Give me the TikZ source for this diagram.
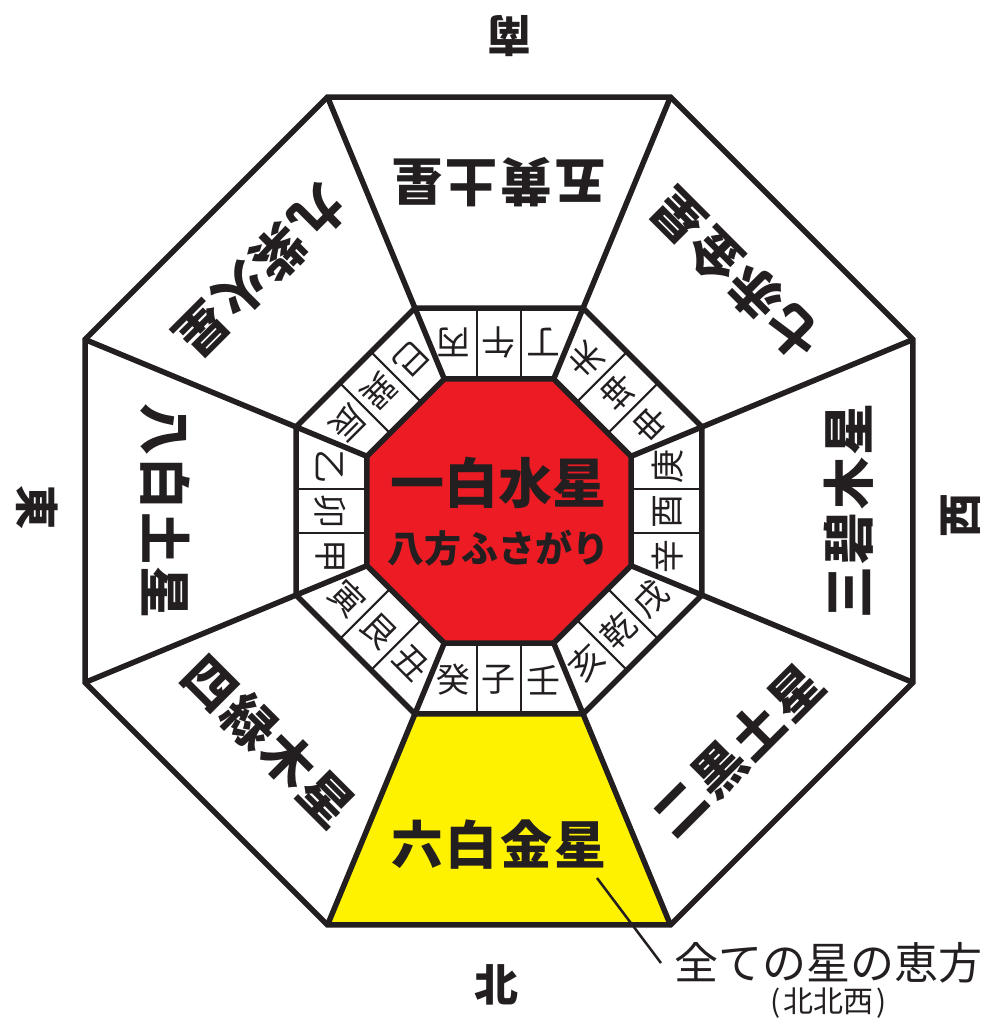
\documentclass[tikz,border=0pt]{standalone}
\usepackage{fontspec}
\newfontfamily\jp{Noto Sans CJK JP}
\newfontfamily\jpwide{Noto Sans CJK JP}[LetterSpace=5]
\usetikzlibrary{positioning}
\definecolor{ink}{HTML}{231F20}
\definecolor{kyuseired}{HTML}{ED1C24}
\definecolor{ehoyellow}{HTML}{FFF200}
\tikzset{
  heavy/.style={draw=ink, line width=5.5pt},
  light/.style={draw=ink, line width=2pt},
  starname/.style={font=\jpwide\bfseries\fontsize{52}{52}\selectfont, text=ink, inner sep=0pt},
  stemname/.style={font=\jp\fontsize{34}{34}\selectfont, text=ink, inner sep=0pt},
  direction/.style={font=\jp\bfseries\fontsize{44}{44}\selectfont, text=ink, inner sep=0pt},
}
\begin{document}
\begin{tikzpicture}[x=1pt, y=1pt]
  \useasboundingbox (-499,-515) rectangle (493,511);
  \fill[ehoyellow] (247.5:219.7) -- (292.5:219.7) -- (292.5:448.1) -- (247.5:448.1) -- cycle;
  \fill[kyuseired] (22.5:142.9) \foreach \a in {67.5,112.5,...,337.5} {-- (\a:142.9)} -- cycle;
  \foreach \a in {0,45,...,315}
    \draw[light, rotate=\a] (132,22) -- (203,22) (132,-22) -- (203,-22);
  \foreach \r in {142.9,219.7,448.1}
    \draw[heavy] (22.5:\r) \foreach \a in {67.5,112.5,...,337.5} {-- (\a:\r)} -- cycle;
  \foreach \a in {22.5,67.5,...,337.5}
    \draw[heavy] (\a:142.9) -- (\a:448.1);

  \foreach \a/\p/\q/\s/\nm in {270/壬/子/癸/n, 225/丑/艮/寅/ne, 180/甲/卯/乙/e, 135/辰/巽/巳/se,
      90/丙/午/丁/s, 45/未/坤/申/sw, 0/庚/酉/辛/w, -45/戌/乾/亥/nw}
  {
    \begin{scope}[rotate=\a]
      \node[stemname, rotate=\a+90] (stem\nm1) at (169,45) {\p};
      \node[stemname, rotate=\a+90] (stem\nm2) at (169,0) {\q};
      \node[stemname, rotate=\a+90] (stem\nm3) at (169,-45) {\s};
    \end{scope}
  }

  \foreach \a/\r/\txt/\nm in {90/329/五黄土星/s, 45/335/七赤金星/sw, 0/350/三碧木星/w,
      -45/338/二黒土星/nw, -90/334/六白金星/n, -135/325/四緑木星/ne, 180/334/八白土星/e, 135/338/九紫火星/se}
    \node[starname, rotate=\a+90] (star\nm) at (\a:\r) {\txt};

  \node[font=\jp\bfseries\fontsize{54}{54}\selectfont, text=ink, inner sep=0pt] (center) at (0,28) {一白水星};
  \node[font=\jp\bfseries\fontsize{37}{37}\selectfont, text=ink, inner sep=0pt] (fusagari) at (0,-37) {八方ふさがり};

  \node[direction, rotate=180] (south) at (11,475) {南};
  \node[direction] (north) at (-2,-474) {北};
  \node[direction, rotate=-90] (east) at (-462,4) {東};
  \node[direction, rotate=90] (west) at (462,-4) {西};

  \coordinate (tip) at (98,-367);
  \node[font=\jp\fontsize{44}{44}\selectfont, text=ink, anchor=west, inner xsep=13pt, inner ysep=0pt] (eho) at (162,-452) {全ての星の恵方};
  \node[font=\jp\fontsize{30}{30}\selectfont, text=ink, inner sep=0pt, below=4pt of eho] (ehodir) {(\kern3pt 北北西\kern3pt)};
  \draw[ink, line width=2.5pt] (tip) -- (eho.west);
\end{tikzpicture}
\end{document}
